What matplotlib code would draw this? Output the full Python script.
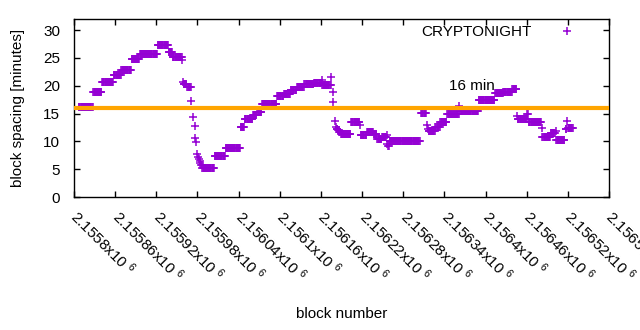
import numpy as np
import matplotlib
matplotlib.use("Agg")
import matplotlib.pyplot as plt

plt.rcParams['font.family'] = ['Liberation Sans', 'DejaVu Sans']
plt.rcParams['mathtext.default'] = 'regular'

# block spacing data, read as runs of equal value (block offsets from 2155800)
base_block = 2155800
run_start = [7, 28, 41, 58, 69, 84, 96, 122, 138, 144, 158, 159, 160, 165, 171, 174, 176, 177,
             178, 180, 181, 182, 183, 184, 185, 187, 205, 221, 243, 249, 261, 267, 274, 296,
             306, 316, 325, 336, 350, 361, 362, 375, 377, 378, 380, 382, 383, 385, 387, 389,
             404, 417, 418, 427, 437, 442, 449, 456, 457, 458, 460, 463, 506, 515, 516, 517,
             527, 534, 544, 562, 563, 590, 614, 626, 639, 646, 647, 661, 663, 682, 683, 695,
             702, 703, 717, 719, 720]
run_end = [27, 40, 57, 68, 83, 95, 121, 137, 143, 157, 158, 159, 164, 170, 171, 174, 176, 177,
           178, 180, 181, 182, 183, 184, 186, 204, 220, 242, 248, 260, 266, 273, 295, 305,
           315, 324, 335, 349, 360, 361, 374, 375, 377, 378, 380, 382, 384, 386, 388, 403,
           416, 417, 426, 436, 441, 448, 455, 456, 457, 459, 462, 504, 513, 515, 516, 526,
           533, 543, 561, 562, 589, 613, 625, 638, 645, 646, 660, 662, 681, 682, 694, 701,
           702, 715, 718, 719, 727]
run_value = [16.1, 18.9, 20.6, 22.0, 22.8, 24.75, 25.65, 27.4, 26.0, 25.1, 24.7, 20.7, 20.3, 19.8,
             17.3, 14.3, 12.7, 10.6, 9.8, 7.7, 7.25, 6.9, 6.5, 6.1, 5.8, 5.15, 7.3, 8.75, 12.6,
             14.0, 14.7, 15.2, 16.75, 18.15, 18.5, 19.2, 19.85, 20.25, 20.45, 21.1, 20.1, 21.5,
             18.9, 17.1, 13.7, 12.65, 12.3, 12.0, 11.7, 11.27, 13.4, 12.9, 11.15, 11.75, 11.27,
             10.4, 10.85, 11.2, 9.5, 9.1, 10.1, 10.0, 15.05, 13.0, 12.3, 11.9, 12.65, 13.4,
             14.85, 16.4, 15.55, 17.4, 18.75, 18.95, 19.35, 14.56, 14.05, 14.9, 13.4, 12.35,
             10.75, 11.45, 11.85, 10.2, 12.3, 13.7, 12.35]

target_minutes = 16
x_ticks = [base_block + 60 * k for k in range(14)]

blocks = []
spacing = []
for s, e, v in zip(run_start, run_end, run_value):
    b = np.arange(s, e + 1) + base_block
    blocks.extend(b)
    spacing.extend([v] * len(b))

fig = plt.figure(figsize=(6.4, 3.3), dpi=100)
ax = fig.add_axes([0.1156, 0.403, 0.836, 0.5394])

ax.plot(blocks, spacing, linestyle='none', marker='+', ms=5.5, mew=1.1,
        color='#9400D3', label='CRYPTONIGHT')
ax.axhline(target_minutes, color='#FFA500', lw=3, zorder=3)
ax.text(base_block + 547, 20, '16 min', fontsize=11, ha='left', va='center')

ax.set_xlim(base_block, base_block + 780)
ax.set_ylim(0, 32)
ax.set_yticks(range(0, 31, 5))
ax.set_xticks(x_ticks)
ax.set_xticklabels(['%gx10 $^{6}$' % (t / 1e6) for t in x_ticks])

ax.tick_params(direction='in', length=4, width=1, top=True, right=True, labelsize=11)
ax.tick_params(axis='y', pad=10)
ax.tick_params(axis='x', pad=12)
plt.setp(ax.get_xticklabels(), rotation=-45, ha='left', va='center', rotation_mode='anchor')
for sp in ax.spines.values():
    sp.set_linewidth(1)

ax.set_ylabel('block spacing [minutes]', fontsize=11)
ax.yaxis.set_label_coords(-0.092, 0.5)
ax.set_xlabel('block number', fontsize=11)
ax.xaxis.set_label_coords(0.5, -0.62)

ax.legend(loc='center right', bbox_to_anchor=(0.9495, 0.927), markerfirst=False,
          frameon=False, fontsize=11, handlelength=2, handletextpad=1.3,
          borderpad=0, borderaxespad=0)

fig.savefig('out.png', dpi=100)
